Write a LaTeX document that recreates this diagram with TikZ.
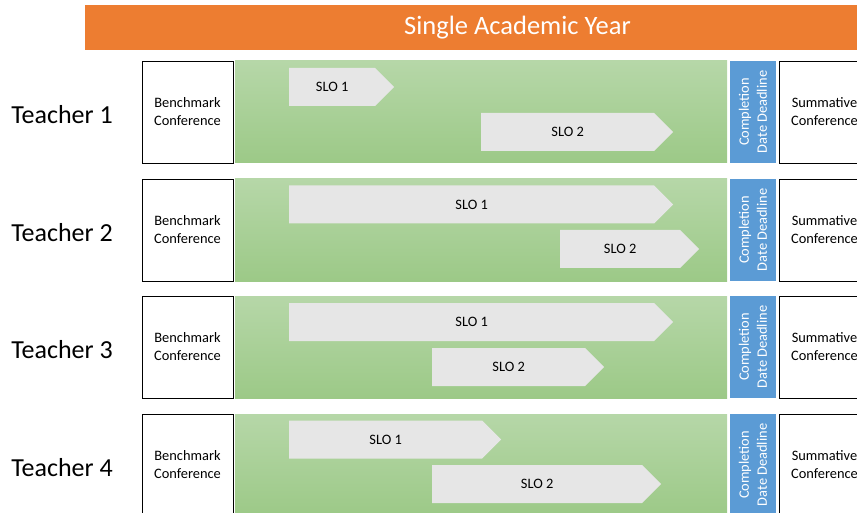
\documentclass[tikz,border=0pt]{standalone}
\usepackage{fontspec}
\setmainfont{Carlito}
\usepackage{tikz}
\usetikzlibrary{shapes.symbols, positioning}
\definecolor{yearorange}{HTML}{ED7D31}
\definecolor{termtop}{HTML}{B6D7A8}
\definecolor{termbottom}{HTML}{9CC987}
\definecolor{deadblue}{HTML}{5B9BD5}
\definecolor{slogray}{HTML}{E6E6E6}

\begin{document}
\begin{tikzpicture}[x=1pt, y=-1pt,
  year/.style={fill=yearorange, text=white, minimum width=865pt, minimum height=45pt,
               inner sep=0pt, font=\fontsize{26.5}{30}\selectfont},
  teacher/.style={inner sep=0pt, font=\fontsize{26}{30}\selectfont},
  conf/.style={draw=black, line width=0.8pt, fill=white, minimum width=91pt,
               minimum height=102pt, inner sep=0pt, align=center,
               font=\fontsize{14.4}{18}\selectfont},
  term/.style={top color=termtop, bottom color=termbottom, minimum width=492pt,
               minimum height=102pt, inner sep=0pt},
  deadline/.style={fill=deadblue, text=white, rotate=90, minimum width=102pt,
                   minimum height=46pt, inner sep=0pt, align=center,
                   font=\fontsize{14.4}{18}\selectfont},
  slo/.style={signal, signal to=east, signal pointer angle=90, fill=slogray,
              minimum height=38pt, inner sep=0pt, anchor=west,
              font=\fontsize{14.4}{18}\selectfont},
]
  \useasboundingbox (0,0) rectangle (857,513);
  \clip (0,0) rectangle (857,513);

  % Year banner
  \node[year] (year) at (517.5, 27.5) {Single Academic Year};

  % Teacher 1
  \node[teacher] (t1) at (62, 115) {Teacher 1};
  \node[conf] (bench1) at (187.5, 112) {Benchmark\\Conference};
  \node[term] (term1) at (481, 112) {};
  \node[deadline] (dead1) at (753, 112) {Completion\\Date Deadline};
  \node[conf] (summ1) at (824.5, 112) {Summative\\Conference};
  \node[slo, minimum width=105pt] (slo11) at (289, 87) {SLO 1};
  \node[slo, minimum width=192pt] (slo12) at (481, 132) {SLO 2};

  % Teacher 2
  \node[teacher] (t2) at (62, 233) {Teacher 2};
  \node[conf] (bench2) at (187.5, 230) {Benchmark\\Conference};
  \node[term] (term2) at (481, 230) {};
  \node[deadline] (dead2) at (753, 230) {Completion\\Date Deadline};
  \node[conf] (summ2) at (824.5, 230) {Summative\\Conference};
  \node[slo, minimum width=384pt] (slo21) at (289, 204.5) {SLO 1};
  \node[slo, minimum width=139pt] (slo22) at (560, 249) {SLO 2};

  % Teacher 3
  \node[teacher] (t3) at (62, 350) {Teacher 3};
  \node[conf] (bench3) at (187.5, 347) {Benchmark\\Conference};
  \node[term] (term3) at (481, 347) {};
  \node[deadline] (dead3) at (753, 347) {Completion\\Date Deadline};
  \node[conf] (summ3) at (824.5, 347) {Summative\\Conference};
  \node[slo, minimum width=384pt] (slo31) at (289, 322) {SLO 1};
  \node[slo, minimum width=172pt] (slo32) at (432, 367) {SLO 2};

  % Teacher 4
  \node[teacher] (t4) at (62, 468) {Teacher 4};
  \node[conf] (bench4) at (187.5, 465) {Benchmark\\Conference};
  \node[term] (term4) at (481, 465) {};
  \node[deadline] (dead4) at (753, 465) {Completion\\Date Deadline};
  \node[conf] (summ4) at (824.5, 465) {Summative\\Conference};
  \node[slo, minimum width=212pt] (slo41) at (289, 439.5) {SLO 1};
  \node[slo, minimum width=229pt] (slo42) at (432, 484) {SLO 2};
\end{tikzpicture}
\end{document}
